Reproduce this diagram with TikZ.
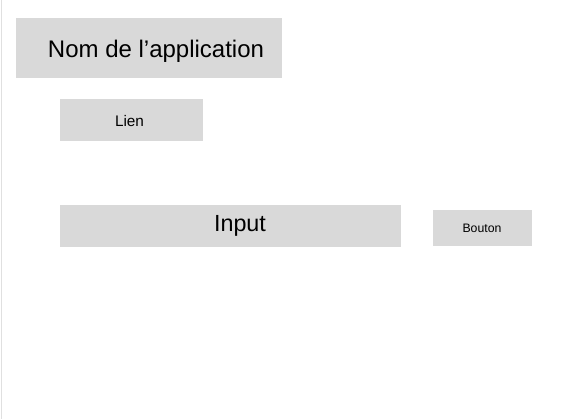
\documentclass[tikz,border=0pt]{standalone}
\usepackage{fontspec}
\setmainfont{Liberation Sans}
\usepackage{xcolor}
\usetikzlibrary{positioning}
\definecolor{zonegris}{RGB}{217, 217, 217}
\definecolor{bordgris}{RGB}{224, 224, 224}

\begin{document}
\begin{tikzpicture}[x=0.75pt, y=-0.75pt,
		boite/.style={fill=zonegris, draw=none, inner sep=0pt, anchor=north west},
		texte/.style={inner sep=0pt, anchor=base, text=black}]
			\useasboundingbox (0,0) rectangle (571,419);
			\fill[white] (0,0) rectangle (571,419);

			% Bord gauche de la page
			\draw[bordgris, line width=0.75pt] (1,0) -- (1,419);

			% Zones grises
			\node[boite, minimum width=266*0.75pt, minimum height=60*0.75pt] (titre) at (16,18) {};
			\node[boite, minimum width=143*0.75pt, minimum height=42*0.75pt] (lien) at (60,99) {};
			\node[boite, minimum width=341*0.75pt, minimum height=42*0.75pt] (input) at (60,205) {};
			\node[boite, minimum width=99*0.75pt, minimum height=36*0.75pt] (bouton) at (433,210) {};

			% Textes
			\node[texte, font=\fontsize{18}{20}\selectfont] (titre-texte) at (156,57) {Nom de l’application};
			\node[texte, font=\fontsize{11.5}{13}\selectfont] (lien-texte) at (129.5,126) {Lien};
			\node[texte, font=\fontsize{17.5}{20}\selectfont] (input-texte) at (240,231) {Input};
			\node[texte, font=\fontsize{9.2}{11}\selectfont] (bouton-texte) at (482,232) {Bouton};

		\end{tikzpicture}
\end{document}
